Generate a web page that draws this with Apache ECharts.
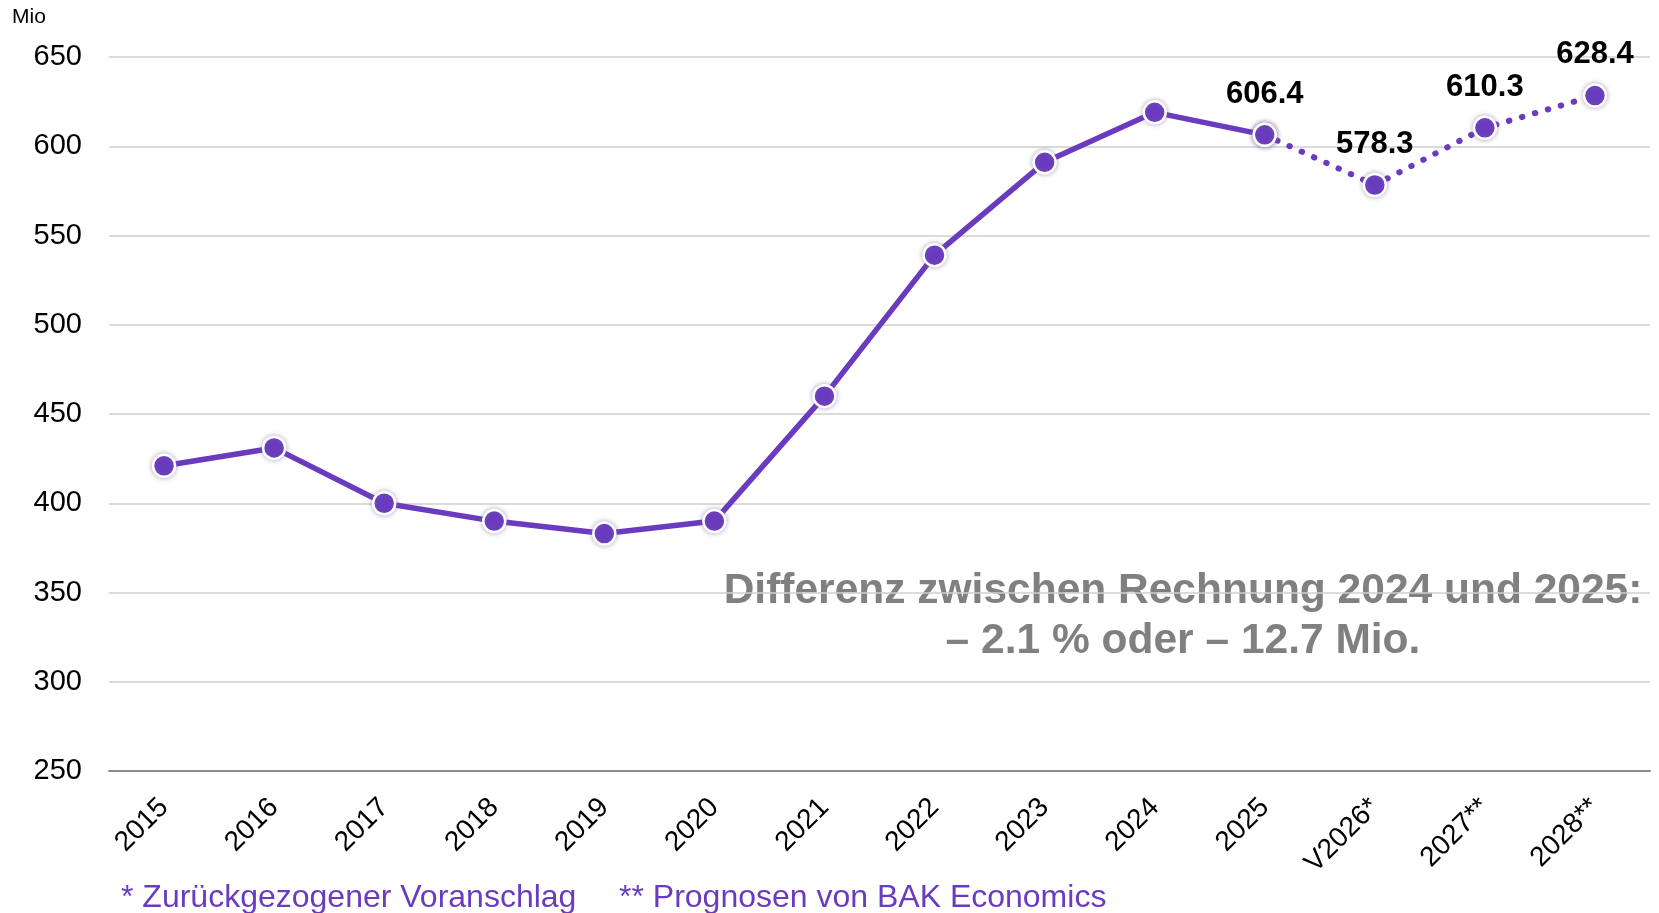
<!DOCTYPE html>
<html><head><meta charset="utf-8">
<script src="https://cdn.jsdelivr.net/npm/echarts@6/dist/echarts.min.js"></script>
<style>html,body{margin:0;padding:0;background:#fff}#c{width:1659px;height:913px}</style>
</head><body><div id="c"></div>
<script>
const categories = ['2015','2016','2017','2018','2019','2020','2021','2022','2023','2024','2025','V2026*','2027**','2028**'];
const actualValues = [421, 431, 400, 390, 383, 390, 460, 539, 591, 619, 606.4, null, null, null];
const forecastValues = [null, null, null, null, null, null, null, null, null, null, 606.4, 578.3, 610.3, 628.4];
const yTicks = {min: 250, max: 650, interval: 50};
const unitLabel = 'Mio';
const noteLine1 = 'Differenz zwischen Rechnung 2024 und 2025:';
const noteLine2 = '– 2.1 % oder – 12.7 Mio.';
const footnote1 = '* Zurückgezogener Voranschlag';
const footnote2 = '** Prognosen von BAK Economics';

const purple = '#6A3BBF';
const font = 'Liberation Sans, Arial, sans-serif';
const chart = echarts.init(document.getElementById('c'));
const markerStyle = {color: purple, borderColor: '#fff', borderWidth: 2.5, shadowBlur: 5, shadowColor: 'rgba(120,100,160,0.5)'};
chart.setOption({
  animation: false,
  textStyle: {fontFamily: font},
  grid: {left: 109, right: 9, top: 57, bottom: 142, containLabel: false},
  xAxis: {
    type: 'category', data: categories, boundaryGap: true,
    axisLine: {lineStyle: {color: '#8c8c8c', width: 2}},
    axisTick: {show: false},
    axisLabel: {rotate: 45, fontSize: 28, color: '#000', margin: 32, fontFamily: font}
  },
  yAxis: {
    type: 'value', min: yTicks.min, max: yTicks.max, interval: yTicks.interval,
    axisLine: {show: false}, axisTick: {show: false},
    axisLabel: {fontSize: 29, color: '#000', margin: 27, fontFamily: font},
    splitLine: {lineStyle: {color: '#cfcfcf', width: 1.5}}
  },
  graphic: [
    {type: 'text', left: 12, top: 7, style: {text: unitLabel, fontSize: 21, fill: '#000', fontFamily: font}},
    {type: 'text', z: -1, x: 1183, y: 591, style: {text: noteLine1, fontSize: 42.5, fontWeight: 'bold', fill: '#808080', align: 'center', verticalAlign: 'middle', fontFamily: font}},
    {type: 'text', z: -1, x: 1183, y: 641, style: {text: noteLine2, fontSize: 42.5, fontWeight: 'bold', fill: '#808080', align: 'center', verticalAlign: 'middle', fontFamily: font}},
    {type: 'text', left: 121, top: 882, style: {text: footnote1, fontSize: 32, fill: purple, fontFamily: font}},
    {type: 'text', left: 619, top: 882, style: {text: footnote2, fontSize: 32, fill: purple, fontFamily: font}}
  ],
  series: [
    {
      type: 'line', data: actualValues, connectNulls: false,
      symbol: 'circle', symbolSize: 22,
      lineStyle: {color: purple, width: 5.5},
      itemStyle: markerStyle, z: 3
    },
    {
      type: 'line', data: forecastValues,
      symbol: 'circle', symbolSize: 22,
      lineStyle: {color: purple, width: 6, type: [0.5, 13], cap: 'round'},
      itemStyle: markerStyle, z: 4,
      label: {show: true, position: 'top', distance: 13, fontSize: 31, fontWeight: 'bold', color: '#000', fontFamily: font,
        formatter: p => p.value.toFixed(1)}
    }
  ]
});
</script></body></html>
